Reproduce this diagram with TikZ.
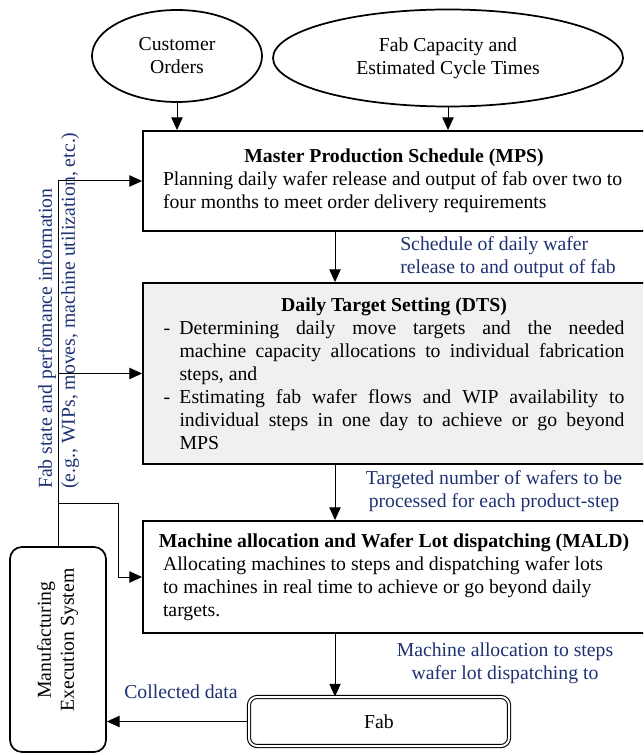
\documentclass[tikz,border=0pt]{standalone}
\usepackage{fontspec}
\setmainfont{Liberation Serif}
\usetikzlibrary{arrows.meta,shapes.geometric}
\definecolor{lblue}{RGB}{30,50,115}
\definecolor{dtsgray}{RGB}{240,240,240}
\newcommand\jline[1]{\makebox[333.75pt][s]{\spaceskip=0.25em plus 1fil\relax #1}}
\begin{document}
\begin{tikzpicture}[x=0.75pt,y=-0.75pt,
  every node/.style={font=\fontsize{14.8}{17.3}\selectfont,
    execute at begin node={\spaceskip=0pt\xspaceskip=0pt}},
  ell/.style={ellipse, draw, line width=1.3pt, inner sep=0pt, align=center},
  bigbox/.style={draw, line width=1.4pt, minimum width=376.5pt, inner sep=0pt, align=left},
  arr/.style={-{Triangle[length=9.5pt,width=8.5pt]}, line width=0.75pt},
  conn/.style={line width=0.75pt},
  lbl/.style={text=lblue, inner sep=0pt},
]
\useasboundingbox (0,0) rectangle (643,755);
\clip (0,0) rectangle (643,755);

% inputs
\node[ell, minimum width=127.5pt, minimum height=69pt] (co) at (177,56) {Customer\\Orders};
\node[ell, minimum width=262.5pt, minimum height=72.75pt] (fc) at (448,58) {Fab Capacity and\\Estimated Cycle Times};

% MPS
\node[bigbox, minimum height=75pt] (mps) at (394,181)
 {\makebox[346.5pt][c]{\bfseries Master Production Schedule (MPS)}\\
  Planning daily wafer release and output of fab over two to\\
  four months to meet order delivery requirements};

% DTS
\node[bigbox, fill=dtsgray, minimum height=135.75pt] (dts) at (394,373.5)
 {\makebox[345.75pt][c]{\bfseries Daily Target Setting (DTS)}\\
  \makebox[12pt][l]{-}\jline{Determining daily move targets and the needed}\\
  \hspace*{12pt}\jline{machine capacity allocations to individual fabrication}\\
  \hspace*{12pt}steps, and\\
  \makebox[12pt][l]{-}\jline{Estimating fab wafer flows and WIP availability to}\\
  \hspace*{12pt}\jline{individual steps in one day to achieve or go beyond}\\
  \hspace*{12pt}MPS};

% MALD
\node[bigbox, minimum height=84pt] (mald) at (394,577)
 {\makebox[361.5pt][c]{\bfseries Machine allocation and Wafer Lot dispatching (MALD)}\\
  \hspace*{7.5pt}Allocating machines to steps and dispatching wafer lots\\
  \hspace*{7.5pt}to machines in real time to achieve or go beyond daily\\
  \hspace*{7.5pt}targets.};

% Fab and MES
\node[draw, double, double distance=1.5pt, line width=0.8pt, rounded corners=6pt,
      minimum width=195pt, minimum height=36.75pt, inner sep=0pt] (fab) at (379,721.5) {Fab};
\node[draw, line width=1.3pt, rounded corners=9pt, minimum width=72pt, minimum height=153.75pt,
      inner sep=0pt] (mes) at (58,649.5) {};
\node[rotate=90, align=center, inner sep=0pt] (mestxt) at (57.5,640) {Manufacturing\\Execution System};

% flow labels
\node[lbl, anchor=west, align=left] (schl) at (400,257) {Schedule of daily wafer\\release to and output of fab};
\node[lbl, align=center] (tgtl) at (494,491.5) {Targeted number of wafers to be\\processed for each product-step};
\node[lbl, align=center] (mall) at (505,663) {Machine allocation to steps\\wafer lot dispatching to};
\node[lbl] (coll) at (181,692) {Collected data};
\node[lbl, rotate=90, anchor=west, align=left] (fbl) at (58.5,489)
 {Fab state and perfomance information\\(e.g., WIPs, moves, machine utilization, etc.)};

% connectors
\coordinate (cx) at (335,0);
\coordinate (br) at (118,503);
\draw[arr] (co.south) -- (co.south |- mps.north);
\draw[arr] (fc.south) -- (fc.south |- mps.north);
\draw[arr] (cx |- mps.south) -- (cx |- dts.north);
\draw[arr] (cx |- dts.south) -- (cx |- mald.north);
\draw[arr] (cx |- mald.south) -- (cx |- fab.north);
\draw[arr] (fab.west) -- (fab.west -| mes.east);
\draw[conn] (mes.north) -- (mes.north |- mps.west);
\draw[arr] (mes.north |- mps.west) -- (mps.west);
\draw[arr] (mes.north |- dts.west) -- (dts.west);
\draw[arr] (mes.north |- br) -- (br) -- (br |- mald.west) -- (mald.west);
\end{tikzpicture}
\end{document}
